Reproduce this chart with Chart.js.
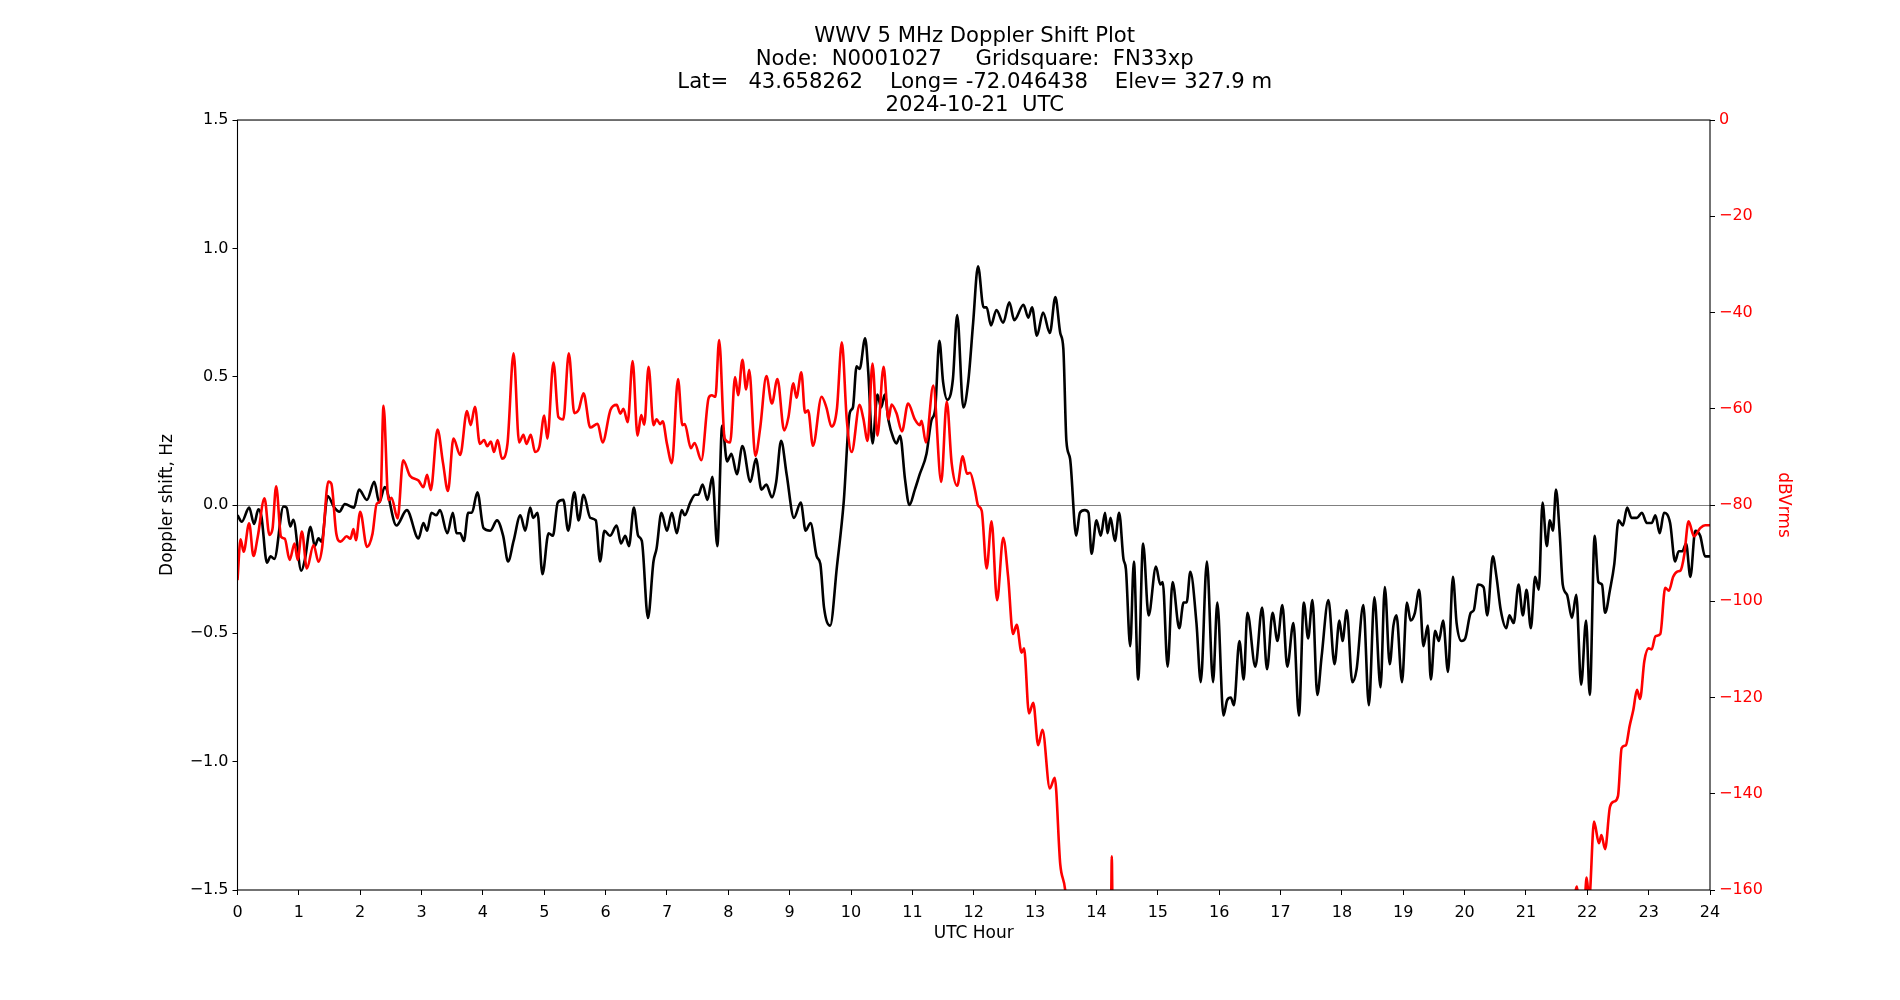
<!DOCTYPE html>
<html lang="en">
<head>
<meta charset="UTF-8">
<title>WWV 5 MHz Doppler Shift Plot</title>
<script src="https://cdn.jsdelivr.net/npm/chart.js"></script>
<style>
body{margin:0;background:#fff}
#wrap{width:1900px;height:1000px}
</style>
</head>
<body>
<div id="wrap"><canvas id="doppler" width="1900" height="1000"></canvas></div>
<script>
/* --- title and axis text --- */
const titleLines=['WWV 5 MHz Doppler Shift Plot',
  'Node:  N0001027     Gridsquare:  FN33xp',
  'Lat=   43.658262    Long= -72.046438    Elev= 327.9 m',
  '2024-10-21  UTC'];
const xLabel='UTC Hour', yLabel='Doppler shift, Hz', y1Label='dBVrms';

/* --- Doppler shift (black, left axis) read at turning points --- */
const dopplerHours=[0.00,0.07,0.19,0.27,0.34,0.39,0.48,0.54,0.60,0.75,0.80,0.86,0.91,1.04,1.10,1.19,1.26,1.32,1.37,1.47,1.57,
  1.66,1.75,1.90,1.98,2.11,2.23,2.31,2.40,2.59,2.76,2.95,3.03,3.09,3.16,3.24,3.30,3.42,3.51,3.57,3.63,3.69,3.76,3.82,
  3.91,4.01,4.12,4.23,4.33,4.41,4.50,4.61,4.69,4.77,4.82,4.89,4.97,5.07,5.14,5.22,5.31,5.39,5.49,5.56,5.64,5.75,5.84,5.91,5.98,
  6.07,6.18,6.25,6.32,6.38,6.46,6.53,6.59,6.69,6.78,6.83,6.91,7.00,7.08,7.16,7.24,7.29,7.38,7.46,7.51,7.58,7.66,7.74,7.82,7.90,
  7.98,8.05,8.14,8.23,8.36,8.45,8.54,8.62,8.71,8.78,8.86,8.95,9.07,9.18,9.26,9.34,9.44,9.50,9.56,9.66,9.77,9.88,9.98,10.03,10.09,
  10.14,10.23,10.28,10.35,10.43,10.49,10.55,10.61,10.69,10.74,10.80,10.88,10.95,11.04,11.12,11.23,11.31,11.37,11.44,11.50,11.57,
  11.66,11.73,11.83,11.91,11.99,12.07,12.16,12.21,12.28,12.37,12.48,12.58,12.66,12.81,12.89,12.95,13.03,13.13,13.24,13.33,13.41,
  13.46,13.51,13.57,13.67,13.73,13.81,13.87,13.92,14.00,14.07,14.14,14.18,14.23,14.30,14.37,14.44,14.48,14.55,14.61,14.68,14.76,
  14.85,14.97,15.04,15.08,15.16,15.24,15.35,15.42,15.47,15.53,15.63,15.70,15.80,15.90,15.97,16.07,16.13,16.19,16.24,16.33,16.40,
  16.46,16.59,16.70,16.78,16.87,16.95,17.03,17.11,17.21,17.30,17.38,17.45,17.52,17.60,17.67,17.78,17.88,17.96,18.01,18.08,18.17,
  18.24,18.35,18.44,18.53,18.63,18.70,18.78,18.84,18.89,18.98,19.06,19.12,19.19,19.26,19.33,19.40,19.45,19.52,19.58,19.65,19.73,
  19.81,19.87,19.95,20.01,20.10,20.15,20.22,20.31,20.37,20.46,20.52,20.59,20.68,20.73,20.80,20.88,20.95,21.01,21.08,21.15,21.21,
  21.27,21.34,21.39,21.44,21.49,21.55,21.60,21.67,21.75,21.82,21.90,21.98,22.04,22.12,22.18,22.24,22.29,22.37,22.44,22.51,22.58,
  22.65,22.72,22.81,22.89,22.97,23.05,23.11,23.18,23.25,23.35,23.43,23.49,23.55,23.61,23.68,23.76,23.84,23.92,24.00];
const dopplerHz=[-0.04,-0.065,-0.01,-0.074,-0.017,-0.045,-0.225,-0.20,-0.21,-0.006,-0.01,-0.084,-0.058,-0.256,-0.21,-0.085,-0.16,-0.13,-0.143,0.035,-0.007,
  -0.026,0.004,-0.01,0.06,0.02,0.09,0.01,0.07,-0.08,-0.02,-0.13,-0.07,-0.10,-0.03,-0.04,-0.02,-0.11,-0.03,-0.11,-0.11,-0.14,-0.03,-0.03,
  0.05,-0.09,-0.10,-0.06,-0.12,-0.22,-0.14,-0.04,-0.10,-0.01,-0.05,-0.03,-0.27,-0.11,-0.12,0.01,0.02,-0.10,0.05,-0.06,0.04,-0.05,-0.06,-0.22,-0.10,
  -0.12,-0.08,-0.15,-0.12,-0.16,-0.01,-0.12,-0.14,-0.44,-0.22,-0.17,-0.03,-0.10,-0.03,-0.11,-0.02,-0.04,0.01,0.04,0.04,0.08,0.02,0.11,-0.16,0.31,
  0.17,0.20,0.12,0.23,0.09,0.18,0.06,0.08,0.03,0.09,0.25,0.12,-0.05,0.01,-0.10,-0.07,-0.20,-0.23,-0.40,-0.47,-0.24,0.01,0.36,0.38,0.54,
  0.53,0.65,0.52,0.24,0.43,0.38,0.43,0.33,0.26,0.24,0.27,0.10,0.00,0.06,0.12,0.20,0.33,0.37,0.64,0.48,0.41,
  0.49,0.74,0.38,0.48,0.71,0.93,0.77,0.77,0.70,0.76,0.71,0.79,0.72,0.78,0.73,0.77,0.66,0.75,0.67,0.81,0.67,
  0.61,0.25,0.18,-0.12,-0.03,-0.02,-0.03,-0.19,-0.06,-0.12,-0.03,-0.11,-0.05,-0.14,-0.03,-0.21,-0.25,-0.55,-0.22,-0.68,-0.15,
  -0.43,-0.24,-0.31,-0.30,-0.63,-0.30,-0.48,-0.38,-0.38,-0.26,-0.46,-0.69,-0.22,-0.69,-0.38,-0.82,-0.76,-0.75,-0.78,-0.53,-0.68,
  -0.42,-0.63,-0.40,-0.64,-0.42,-0.53,-0.39,-0.63,-0.46,-0.82,-0.38,-0.52,-0.37,-0.74,-0.59,-0.37,-0.62,-0.45,-0.53,-0.41,-0.69,
  -0.64,-0.39,-0.78,-0.36,-0.71,-0.32,-0.62,-0.47,-0.43,-0.69,-0.38,-0.45,-0.42,-0.33,-0.55,-0.47,-0.68,-0.49,-0.53,-0.45,-0.65,
  -0.28,-0.46,-0.53,-0.52,-0.42,-0.41,-0.31,-0.32,-0.43,-0.20,-0.28,-0.41,-0.48,-0.43,-0.46,-0.31,-0.43,-0.33,-0.48,-0.28,-0.33,
  0.01,-0.16,-0.06,-0.10,0.06,-0.11,-0.31,-0.35,-0.44,-0.35,-0.70,-0.45,-0.74,-0.12,-0.30,-0.31,-0.42,-0.33,-0.23,-0.06,-0.08,
  -0.01,-0.05,-0.05,-0.03,-0.07,-0.07,-0.04,-0.11,-0.03,-0.07,-0.22,-0.18,-0.18,-0.15,-0.28,-0.10,-0.12,-0.20,-0.20];

/* --- signal level (red, right axis); values under -160 run off the bottom --- */
const levelHours=[0.00,0.05,0.10,0.19,0.26,0.33,0.44,0.52,0.57,0.63,0.71,0.77,0.85,0.93,0.98,1.05,1.13,1.24,1.32,1.38,1.48,1.53,
  1.61,1.68,1.78,1.84,1.89,1.93,2.00,2.11,2.20,2.27,2.33,2.38,2.46,2.51,2.61,2.70,2.81,2.95,3.03,3.09,3.15,3.26,
  3.35,3.43,3.52,3.63,3.74,3.80,3.87,3.95,4.02,4.07,4.13,4.18,4.24,4.31,4.40,4.50,4.59,4.66,4.71,4.78,4.85,4.92,5.00,5.05,5.15,
  5.23,5.31,5.40,5.49,5.56,5.64,5.75,5.87,5.95,6.08,6.18,6.24,6.29,6.36,6.44,6.52,6.58,6.63,6.70,6.78,6.83,6.89,6.93,7.00,7.08,
  7.18,7.25,7.29,7.39,7.45,7.56,7.68,7.73,7.79,7.85,7.94,8.03,8.11,8.16,8.23,8.29,8.34,8.44,8.52,8.62,8.71,8.80,8.91,8.98,9.06,
  9.11,9.19,9.25,9.30,9.38,9.52,9.60,9.68,9.77,9.85,9.93,10.01,10.14,10.20,10.27,10.35,10.43,10.53,10.61,10.66,10.74,10.83,10.93,
  11.04,11.12,11.15,11.22,11.34,11.47,11.56,11.64,11.73,11.82,11.89,11.94,12.02,12.07,12.13,12.21,12.29,12.38,12.48,12.56,12.64,
  12.70,12.78,12.82,12.90,12.97,13.05,13.12,13.24,13.32,13.41,13.49,13.55,14.20,14.24,14.25,14.26,14.30,21.70,21.78,21.83,21.87,
  21.95,21.99,22.03,22.11,22.19,22.23,22.29,22.37,22.44,22.50,22.56,22.63,22.69,22.75,22.81,22.86,22.93,23.00,23.05,23.11,23.19,
  23.27,23.33,23.40,23.47,23.52,23.58,23.65,23.74,23.84,23.92,24.00];
const levelDb=[-95.6,-87.1,-89.7,-83.8,-90.6,-86.6,-78.6,-86.2,-85,-76.1,-86.6,-87,-91.4,-88,-91.4,-85.5,-93.2,-88.3,-91.8,-88.8,-75.1,-75.6,
  -85.9,-87.6,-86.5,-87,-85,-87.3,-81.4,-88.7,-86,-79.7,-79,-59.4,-79,-78.5,-82.8,-70.7,-73.9,-74.9,-76.3,-73.7,-76.9,-64.3,
  -71.3,-77.1,-66.2,-69.6,-60.5,-63.4,-59.6,-67.3,-66.5,-67.8,-66.8,-69,-66.5,-70.4,-67.3,-48.5,-67,-65.4,-67.3,-65.4,-69,-67.9,-61.4,-66.2,-50.4,
  -61.7,-62.2,-48.5,-60.9,-60.2,-56.8,-63.9,-63.1,-67,-60.2,-59.2,-61,-60,-62.8,-50.1,-65.6,-61.3,-63.3,-51.3,-63.4,-62.2,-63.2,-62.6,-67.3,-71.3,
  -53.8,-63.4,-63.2,-68.2,-67.1,-70.7,-57.7,-57.2,-57.5,-45.7,-66.2,-67,-53.4,-57.2,-49.8,-56,-51.9,-69.8,-63.9,-53.2,-58.9,-53.8,-64.5,-61.7,-54.7,
  -57.7,-52.4,-60.8,-60.3,-67.7,-57.5,-59.8,-63.7,-60,-46.2,-62.2,-69,-59.2,-62,-66.7,-50.6,-65.6,-51.3,-62.2,-59.1,-60.9,-64.7,-58.9,
  -62.2,-63.4,-62.5,-67,-55.2,-75.2,-58.5,-71.3,-76,-69.9,-73.5,-73.3,-76.9,-80.1,-81.2,-93.2,-83.4,-99.8,-86.8,-94.9,-106.8,
  -104.9,-110.7,-109.8,-123.3,-121.1,-129.9,-126.7,-138.9,-136.7,-154.7,-160,-170,-172,-162,-153,-162,-172,-172,-163,-159.3,-163,
  -163,-157.4,-162,-145.8,-150.3,-148.6,-151.5,-142.7,-141.6,-140.5,-130.5,-129.9,-125.9,-122.6,-118.4,-120.3,-112.4,-109.8,-110,-107.3,-106.8,
  -97.2,-97.8,-94.9,-93.8,-93.6,-90.4,-83.4,-86.5,-84.8,-84.2,-84.2];

/* --- axis ranges --- */
const hourMin=0, hourMax=24, hourStep=1;
const hzMin=-1.5, hzMax=1.5, hzStep=0.5;
const dbMin=-160, dbMax=0, dbStep=20;

const minus=s=>String(s).replace('-','\u2212');
const tickFont={size:16};

/* frame round the plot area, like the matplotlib spines */
const frame={id:'frame',afterDatasetsDraw(chart){
  const {ctx,chartArea:a}=chart;
  ctx.save(); ctx.strokeStyle='#000'; ctx.lineWidth=1.1;
  ctx.strokeRect(a.left,a.top,a.right-a.left,a.bottom-a.top);
  ctx.restore();
}};

Chart.defaults.font.family='"DejaVu Sans", sans-serif';
Chart.defaults.color='#000';

new Chart(document.getElementById('doppler'),{
  type:'line',
  data:{datasets:[
    {label:'dBVrms',yAxisID:'y1',data:levelHours.map((h,i)=>({x:h,y:levelDb[i]})),
     borderColor:'#ff0000',borderWidth:2.6,pointRadius:0,cubicInterpolationMode:'monotone',fill:false},
    {label:'Doppler shift',yAxisID:'y',data:dopplerHours.map((h,i)=>({x:h,y:dopplerHz[i]})),
     borderColor:'#000',borderWidth:2.6,pointRadius:0,cubicInterpolationMode:'monotone',fill:false}]},
  options:{
    responsive:false,animation:false,
    layout:{padding:{left:155.5,right:106,top:0,bottom:56}},
    plugins:{legend:{display:false},tooltip:{enabled:false},
      title:{display:true,text:titleLines,color:'#000',font:{size:21.2,weight:'normal',lineHeight:1.071},
             padding:{top:25.6,bottom:3.6}}},
    scales:{
      x:{type:'linear',min:hourMin,max:hourMax,
         ticks:{stepSize:hourStep,font:tickFont,padding:8,maxRotation:0,autoSkip:false},
         grid:{drawOnChartArea:false,tickColor:'#000',tickLength:5},
         border:{display:false},
         title:{display:true,text:xLabel,font:{size:17},padding:0},
         afterFit:s=>{s.height=54}},
      y:{position:'left',min:hzMin,max:hzMax,
         ticks:{stepSize:hzStep,font:tickFont,padding:4,callback:v=>minus(v.toFixed(1))},
         grid:{color:c=>(c.tick&&c.tick.value===0)?'#808080':'rgba(0,0,0,0)',lineWidth:1,tickColor:'#000',tickLength:5},
         border:{display:false},
         title:{display:true,text:yLabel,font:{size:17},padding:{top:2,bottom:0}},
         afterFit:s=>{s.width=82}},
      y1:{position:'right',min:dbMin,max:dbMax,
         ticks:{stepSize:dbStep,font:tickFont,color:'#ff0000',padding:4,callback:v=>minus(v)},
         grid:{drawOnChartArea:false,tickColor:'#000',tickLength:5},
         border:{display:false},
         title:{display:true,text:y1Label,color:'#ff0000',font:{size:17},padding:0},
         afterFit:s=>{s.width=84}}
    }
  },
  plugins:[frame]
});
</script>
</body>
</html>
